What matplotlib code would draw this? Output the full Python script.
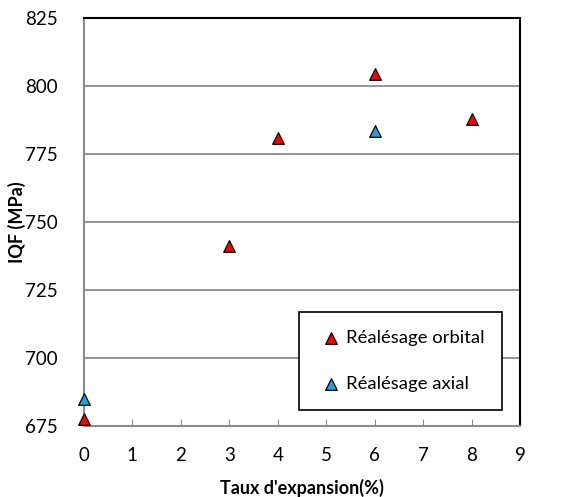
import matplotlib.pyplot as plt

# Data
X_ORBITAL = [0, 3, 4, 6, 8]
Y_ORBITAL = [677.5, 741, 781, 804.3, 788]
X_AXIAL = [0, 6]
Y_AXIAL = [684.8, 783.5]
LEGENDS = ['Réalésage orbital', 'Réalésage axial']
COLORS = ['#FF0000', '#1FA2DC']
X_TICKS = list(range(0, 10))
Y_TICKS = [675, 700, 725, 750, 775, 800, 825]

plt.rcParams['font.family'] = ['Lato', 'DejaVu Sans']

fig = plt.figure(figsize=(5.63, 4.97), dpi=100)
ax = fig.add_axes([0.149, 0.143, 0.775, 0.821])

for y in Y_TICKS[1:-1]:
    ax.axhline(y, color='#8c8c8c', lw=1.3, zorder=1)

ax.scatter(X_ORBITAL, Y_ORBITAL, marker='^', s=70, c=COLORS[0], edgecolors='black',
           linewidths=0.9, label=LEGENDS[0], zorder=3, clip_on=False)
ax.scatter(X_AXIAL, Y_AXIAL, marker='^', s=70, c=COLORS[1], edgecolors='black',
           linewidths=0.9, label=LEGENDS[1], zorder=3, clip_on=False)

ax.set_xlim(0, 9)
ax.set_ylim(675, 825)
ax.set_xticks(X_TICKS)
ax.set_yticks(Y_TICKS)
ax.tick_params(axis='x', direction='in', length=5, color='#8c8c8c', labelsize=13.5, pad=15)
ax.tick_params(axis='y', length=0, labelsize=13.5, pad=19)

ax.spines['left'].set_color('#8c8c8c')
ax.spines['bottom'].set_color('#8c8c8c')
ax.spines['top'].set_color('black')
ax.spines['right'].set_color('black')
for s in ax.spines.values():
    s.set_linewidth(1.5)

ax.set_xlabel("Taux d'expansion(%)", fontsize=13, fontweight='bold')
ax.set_ylabel('IQF (MPa)', fontsize=13, fontweight='bold')
ax.xaxis.set_label_coords(0.5, -0.129)
ax.yaxis.set_label_coords(-0.133, 0.5)

leg = ax.legend(loc='lower right', bbox_to_anchor=(0.959, 0.04), fontsize=13.3,
                frameon=True, fancybox=False, edgecolor='black', framealpha=1,
                handletextpad=0.0, labelspacing=1.65, borderpad=0.95, handlelength=1.6,
                borderaxespad=0)
leg.get_frame().set_linewidth(1.2)

fig.savefig('out.png', dpi=100)
